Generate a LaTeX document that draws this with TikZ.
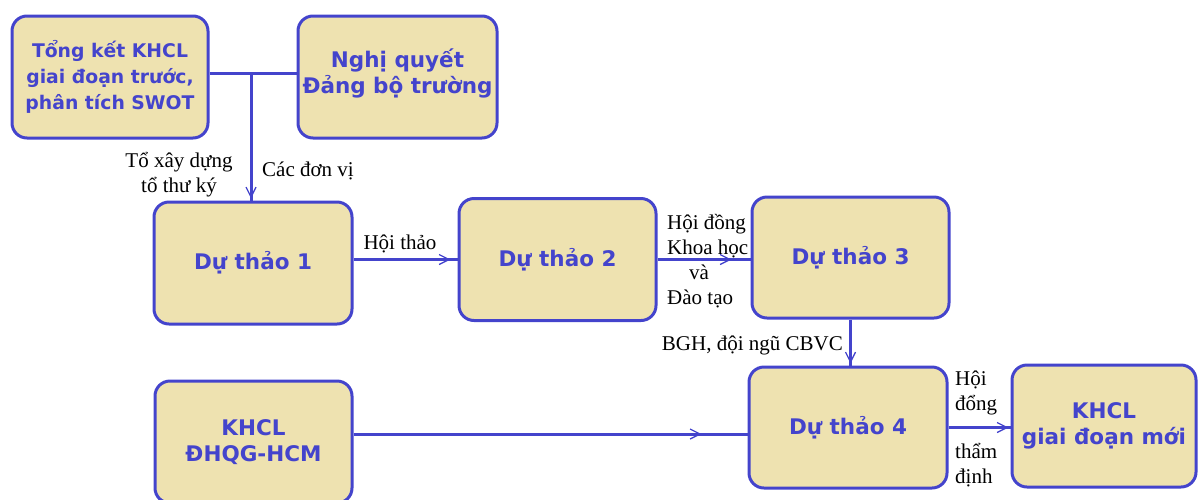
\documentclass[tikz,border=0pt]{standalone}
\usepackage{fontspec}
\setmainfont{Liberation Serif}
\newfontfamily\boxfont{DejaVu Sans}
\usetikzlibrary{arrows.meta,decorations.markings}
\definecolor{bl}{RGB}{68,68,204}
\definecolor{kh}{RGB}{238,226,176}
\tikzset{
  box/.style={draw=bl, fill=kh, line width=3pt, rounded corners=15pt, text=bl,
    font=\boxfont\bfseries\fontsize{21.5}{26}\selectfont, align=center, inner sep=0pt,
    minimum width=197pt, minimum height=122pt},
  lbl/.style={font=\fontsize{21}{25}\selectfont, text=black, inner sep=0pt},
  conn/.style={draw=bl, line width=3pt},
  arrat/.style={postaction={decorate}, decoration={markings,
    mark=at position #1 with {\arrow{Straight Barb[length=10pt,width=10pt,line width=1.3pt]}}}},
}
\begin{document}
\begin{tikzpicture}[x=1pt,y=-1pt]
\useasboundingbox (0,0) rectangle (1198,499);
% boxes
\node[box, minimum width=196pt, font=\boxfont\bfseries\fontsize{18.8}{26}\selectfont] (A) at (110,77) {Tổng kết KHCL\\giai đoạn trước,\\phân tích SWOT};
\node[box, minimum width=199pt] (B) at (397.5,77) {Nghị quyết\\Đảng bộ trường\\[-14pt]\mbox{}};
\node[box, minimum width=198pt] (D1) at (253,263) {Dự thảo 1};
\node[box] (D2) at (557.5,259.5) {Dự thảo 2};
\node[box, minimum height=121pt] (D3) at (850.5,257.5) {Dự thảo 3};
\node[box, minimum width=198pt, minimum height=121pt] (D4) at (848,427.5) {Dự thảo 4};
\node[box] (E) at (253.5,442) {KHCL\\ĐHQG-HCM};
\node[box, minimum width=184pt] (F) at (1104,426) {KHCL\\giai đoạn mới};
% connectors
\coordinate (j) at ([yshift=4pt]A.east -| D1.north);
\draw[conn] ([yshift=4pt]A.east) -- ([yshift=4pt]B.west);
\draw[conn, arrat=-2pt] ([xshift=-2pt]j) -- ([xshift=-2pt]j |- D1.north);
\draw[conn, arrat=-7pt] (D1.east |- D2.west) -- (D2.west);
\draw[conn, arrat=-19pt] (D2.east) -- (D2.east -| D3.west);
\draw[conn, arrat=-2pt] (D3.south) -- (D3.south |- D4.north);
\draw[conn, arrat=-46pt] ([yshift=8pt]E.east) -- ([yshift=8pt]E.east -| D4.west);
\draw[conn, arrat=-2pt] (D4.east) -- (D4.east -| F.west);
% labels
\node[lbl, align=center] (l1) at (179,175) {Tổ xây dựng\\tổ thư ký};
\node[lbl, anchor=west] (l2) at (262,171) {Các đơn vị};
\node[lbl] (l3) at (400,244) {Hội thảo};
\node[lbl, align=left, anchor=west] (l4) at (667,261) {Hội đồng\\Khoa học\\\hspace*{22pt}và\\Đào tạo};
\node[lbl, anchor=east] (l5) at (843,345) {BGH, đội ngũ CBVC};
\node[lbl, align=left, anchor=west] (l6) at (955,393) {Hội\\đổng};
\node[lbl, align=left, anchor=west] (l7) at (955,465) {thẩm\\định};
\end{tikzpicture}
\end{document}
